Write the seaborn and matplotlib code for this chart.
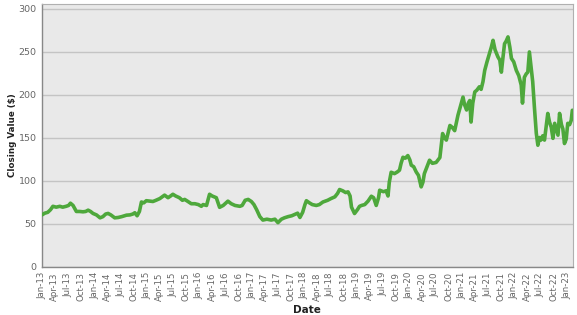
import matplotlib
matplotlib.use("Agg")
import matplotlib.pyplot as plt
import matplotlib.dates as mdates
import seaborn as sns
import pandas as pd

dates = [
    "2013-01-01", "2013-01-20", "2013-02-10", "2013-03-01", "2013-03-18", "2013-04-10",
    "2013-05-05", "2013-05-25", "2013-06-18", "2013-07-05", "2013-07-18", "2013-08-05",
    "2013-08-28", "2013-09-20", "2013-10-13", "2013-11-01", "2013-11-18", "2013-12-05",
    "2013-12-22", "2014-01-15", "2014-02-09", "2014-03-01", "2014-03-20", "2014-04-06",
    "2014-04-25", "2014-05-22", "2014-06-15", "2014-07-10", "2014-08-12", "2014-09-05",
    "2014-09-25", "2014-10-09", "2014-10-25", "2014-11-10", "2014-11-24", "2014-12-10",
    "2014-12-28", "2015-01-20", "2015-02-12", "2015-03-05", "2015-04-01", "2015-04-18",
    "2015-05-04", "2015-05-28", "2015-06-15", "2015-07-01", "2015-07-20", "2015-08-15",
    "2015-09-05", "2015-09-21", "2015-10-10", "2015-11-06", "2015-12-01", "2015-12-25",
    "2016-01-15", "2016-01-27", "2016-02-20", "2016-03-12", "2016-03-30", "2016-04-28",
    "2016-05-21", "2016-06-15", "2016-07-18", "2016-08-10", "2016-09-05", "2016-10-09",
    "2016-10-25", "2016-11-15", "2016-12-06", "2016-12-28", "2017-01-15", "2017-02-03",
    "2017-02-25", "2017-03-18", "2017-04-15", "2017-05-15", "2017-06-10", "2017-07-01",
    "2017-07-25", "2017-08-15", "2017-09-10", "2017-10-05", "2017-10-25", "2017-11-15",
    "2017-12-01", "2017-12-20", "2018-01-05", "2018-01-15", "2018-02-05", "2018-02-25",
    "2018-03-25", "2018-04-15", "2018-05-10", "2018-06-12", "2018-07-05", "2018-08-01",
    "2018-08-20", "2018-09-03", "2018-09-25", "2018-10-15", "2018-11-01", "2018-11-15",
    "2018-11-25", "2018-12-16", "2019-01-05", "2019-01-20", "2019-02-03", "2019-02-25",
    "2019-03-20", "2019-04-12", "2019-04-28", "2019-05-16", "2019-06-01", "2019-06-09",
    "2019-07-05", "2019-07-24", "2019-08-06", "2019-08-15", "2019-08-28", "2019-09-20",
    "2019-10-10", "2019-10-25", "2019-11-05", "2019-11-18", "2019-12-05", "2019-12-22",
    "2020-01-05", "2020-01-15", "2020-02-01", "2020-02-18", "2020-03-05", "2020-03-24",
    "2020-04-05", "2020-04-15", "2020-05-01", "2020-05-21", "2020-06-10", "2020-07-06",
    "2020-07-20", "2020-08-01", "2020-08-20", "2020-09-01", "2020-09-15", "2020-10-10",
    "2020-10-25", "2020-11-12", "2020-11-25", "2020-12-05", "2020-12-20", "2021-01-09",
    "2021-01-20", "2021-02-03", "2021-02-15", "2021-02-25", "2021-03-06", "2021-03-18",
    "2021-04-01", "2021-04-15", "2021-05-03", "2021-05-15", "2021-05-28", "2021-06-09",
    "2021-06-25", "2021-07-12", "2021-07-25", "2021-08-06", "2021-08-20", "2021-09-09",
    "2021-09-22", "2021-10-03", "2021-10-12", "2021-10-25", "2021-11-05", "2021-11-18",
    "2021-12-01", "2021-12-12", "2021-12-28", "2022-01-15", "2022-02-01", "2022-02-18",
    "2022-02-27", "2022-03-12", "2022-03-25", "2022-04-05", "2022-04-16", "2022-04-28",
    "2022-05-09", "2022-05-21", "2022-06-03", "2022-06-14", "2022-06-25", "2022-07-05",
    "2022-07-18", "2022-07-30", "2022-08-12", "2022-08-22", "2022-09-03", "2022-09-15",
    "2022-09-27", "2022-10-09", "2022-10-20", "2022-11-01", "2022-11-12", "2022-11-25",
    "2022-12-05", "2022-12-16", "2022-12-28", "2023-01-08", "2023-01-21", "2023-02-01",
    "2023-02-09",
]

closing_values = [
    60, 62, 63, 66, 70, 69,
    70, 69, 70, 71, 73.6, 71,
    64, 64, 63.6, 64, 65.5, 64,
    61.7, 60, 56.6, 58, 61, 61.7,
    60, 56.6, 57, 58, 59.7, 60,
    61, 62.5, 59, 64, 75, 74,
    76.5, 76, 75.6, 77, 79, 81,
    83, 80, 82, 84, 82, 80,
    77, 78, 76, 73, 73, 72,
    70, 72, 71, 84, 82, 80,
    68.8, 71, 76, 73, 71, 70,
    71, 77, 78, 75.6, 72, 66,
    58, 54, 55, 54, 55, 51,
    55, 56.6, 58, 59, 60.5, 62,
    57, 63, 72, 76.5, 74, 72,
    71, 72, 75, 77, 79, 81,
    85, 89.5, 88, 86, 86.8, 82,
    69, 61.6, 66, 70, 71, 72,
    76, 81.7, 80, 71, 80, 88.7,
    87, 88, 82, 98, 109.6, 108,
    110, 112, 120, 127, 126, 129,
    124, 117.8, 116, 110, 106, 92.6,
    98, 108, 115, 123.6, 120, 121,
    124, 126.7, 154.6, 150, 147, 164,
    162, 158, 168, 176, 185, 197,
    188, 182, 190, 193, 168, 190,
    203, 205, 209, 206, 215, 228,
    238, 247.7, 255, 263, 252, 243.7,
    240, 226, 240, 259, 262, 267,
    255, 242, 238, 228, 222, 211,
    190, 220, 224, 226, 249.5, 232,
    215, 185, 155, 141, 150, 147,
    152, 147, 165, 178, 168, 162,
    149, 166.5, 160, 152.7, 178, 165,
    160, 143, 148, 166.5, 165, 170,
    181.7,
]

ytick_values = [0, 50, 100, 150, 200, 250, 300]

df = pd.DataFrame({"Date": pd.to_datetime(dates), "Closing Value ($)": closing_values})

sns.set_theme(style="white")
plt.rcParams["font.family"] = ["DejaVu Sans"]

fig = plt.figure(figsize=(5.77, 3.15), dpi=100)
ax_w = (572.5 - 42) / 577
ax = fig.add_axes([42 / 577, 1 - 266.5 / 315, ax_w, (266.5 - 3.7) / 315])
ax.set_facecolor("#e9e9e9")

sns.lineplot(data=df, x="Date", y="Closing Value ($)", ax=ax, color="#4ea83c",
             linewidth=2.6, solid_joinstyle="round", zorder=3)

ax.set_ylim(0, 305.6)
ax.set_xlim(pd.Timestamp("2013-01-01"), pd.Timestamp("2023-02-10"))
ax.set_yticks(ytick_values)
ax.yaxis.grid(True, color="#c4c4c4", linewidth=1.0, zorder=0)
ax.xaxis.grid(False)

ticks = pd.date_range("2013-01-01", "2023-01-01", freq="QS")
ax.set_xticks(ticks)
ax.xaxis.set_major_formatter(mdates.DateFormatter("%b-%y"))
ax.tick_params(axis="x", rotation=90, labelsize=6.2, length=3, width=0.6, pad=1,
               color="#888888")
ax.tick_params(axis="y", labelsize=6.8, length=3, width=0.6, pad=1, color="#888888")
for lbl in ax.get_xticklabels() + ax.get_yticklabels():
    lbl.set_color("#666666")

for side in ["left", "bottom"]:
    ax.spines[side].set_color("#888888")
    ax.spines[side].set_linewidth(1.0)
for side in ["top", "right"]:
    ax.spines[side].set_color("#b0b0b0")
    ax.spines[side].set_linewidth(0.8)

ax.set_ylabel("Closing Value ($)", fontsize=6.3, fontweight="bold", color="#222222")
ax.yaxis.set_label_coords((17 - 42) / 577 / ax_w, 0.5)
ax.set_xlabel("Date", fontsize=7.5, fontweight="bold", color="#222222", labelpad=3)

fig.savefig("out.png", dpi=100)
